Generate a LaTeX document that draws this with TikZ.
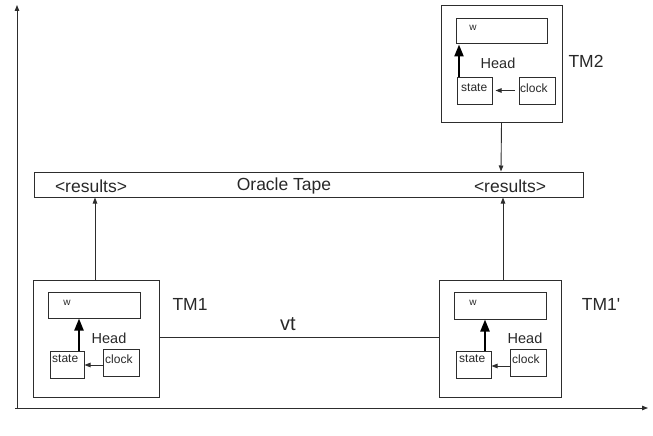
\documentclass[tikz,border=0pt]{standalone}
\usepackage{fontspec}
\setmainfont{Liberation Sans}
\usetikzlibrary{arrows.meta}
\definecolor{ink}{RGB}{45,45,45}
\definecolor{txt}{RGB}{40,40,40}
\tikzset{
  box/.style={draw=ink, line width=1pt, inner sep=0pt, minimum width=#1},
  lbl/.style={text=txt, inner sep=0pt},
  thin/.style={draw=ink, line width=0.9pt},
  small/.style={-{Triangle[length=6pt,width=4.5pt]}},
  thick/.style={draw=black, line width=2.2pt, -{Triangle[length=12pt,width=9pt]}},
}
\begin{document}
\begin{tikzpicture}[x=1pt,y=-1pt]
\useasboundingbox (0,0) rectangle (653,436);
% axes
\coordinate (o) at (17,409);
\coordinate (ytip) at (17,5);
\coordinate (xtip) at (648,408);
\coordinate (ostart) at (15,408);
\draw[thin,small] (o) -- (ytip);
\draw[thin,small] (ostart) -- (xtip);

% oracle tape
\node[box=549pt, minimum height=25pt] (tape) at (308.5,184.5) {};
\node[lbl, font=\fontsize{17.5}{20}\selectfont] (r1) at (91,186) {<results>};
\node[lbl, font=\fontsize{17.5}{20}\selectfont] (ot) at (284,186) {Oracle Tape};
\node[lbl, font=\fontsize{17.5}{20}\selectfont] (r2) at (510,186) {<results>};

% TM2
\node[box=121pt, minimum height=116pt] (tm2) at (501.5,64) {};
\node[box=91pt, minimum height=25pt] (tape2) at (501.5,31.5) {};
\node[box=35pt, minimum height=27pt] (st2) at (474.5,90.5) {};
\node[box=36pt, minimum height=27pt] (cl2) at (537,90.5) {};
\node[lbl, font=\fontsize{10}{12}\selectfont] (w2) at (473,28) {w};
\node[lbl, font=\fontsize{14.5}{17}\selectfont] (h2) at (498,63) {Head};
\node[lbl, font=\fontsize{12}{14}\selectfont, anchor=west] (sl2) at (461,88) {state};
\node[lbl, font=\fontsize{12}{14}\selectfont, anchor=west] (cl2t) at (520,88) {clock};
\node[lbl, font=\fontsize{17.5}{20}\selectfont] (n2) at (586,61) {TM2};
\draw[thick] (st2.north -| 459,0) -- (tape2.south -| 459,0);
\draw[thin,small,shorten <=4pt,shorten >=3pt] (cl2.west) -- (st2.east);

% TM1
\node[box=126pt, minimum height=117pt] (tm1) at (96,338.5) {};
\node[box=92pt, minimum height=26pt] (tape1) at (94,305) {};
\node[box=34pt, minimum height=27pt] (st1) at (67,364.5) {};
\node[box=36pt, minimum height=27pt] (cl1) at (121,362.5) {};
\node[lbl, font=\fontsize{10}{12}\selectfont] (w1) at (67,303) {w};
\node[lbl, font=\fontsize{14.5}{17}\selectfont] (h1) at (109,338) {Head};
\node[lbl, font=\fontsize{12}{14}\selectfont, anchor=west] (sl1) at (52,359) {state};
\node[lbl, font=\fontsize{12}{14}\selectfont, anchor=west] (cl1t) at (105,359) {clock};
\node[lbl, font=\fontsize{17.5}{20}\selectfont] (n1) at (190,304) {TM1};
\draw[thick] (st1.north -| 79,0) -- (tape1.south -| 79,0);
\draw[thin,small] (cl1.west |- 0,365) -- (st1.east |- 0,365);

% TM1'
\node[box=122pt, minimum height=117pt] (tm3) at (500,338.5) {};
\node[box=92pt, minimum height=27pt] (tape3) at (500,305.5) {};
\node[box=35pt, minimum height=27pt] (st3) at (473.5,364.5) {};
\node[box=36pt, minimum height=27pt] (cl3) at (528,362.5) {};
\node[lbl, font=\fontsize{10}{12}\selectfont] (w3) at (473,303) {w};
\node[lbl, font=\fontsize{14.5}{17}\selectfont] (h3) at (525,338) {Head};
\node[lbl, font=\fontsize{12}{14}\selectfont, anchor=west] (sl3) at (459,359) {state};
\node[lbl, font=\fontsize{12}{14}\selectfont, anchor=west] (cl3t) at (512,359) {clock};
\node[lbl, font=\fontsize{17.5}{20}\selectfont] (n3) at (601,304) {TM1\textquotesingle};
\draw[thick] (st3.north -| 485,0) -- (tape3.south -| 485,0);
\draw[thin,small] (cl3.west |- 0,366) -- (st3.east |- 0,366);

% connectors
\draw[thin,small] (tm1.north -| 95,0) -- (tape.south -| 95,0);
\draw[thin,small] (tm3.north -| 503,0) -- (tape.south -| 503,0);
\draw[thin,small] (tm2.south) -- (tape.north -| 501,0);
\draw[thin] (tm1.east |- 0,337.5) -- (tm3.west |- 0,337.5);
\node[lbl, font=\fontsize{20}{24}\selectfont] (vt) at (288,324) {vt};
\end{tikzpicture}
\end{document}
